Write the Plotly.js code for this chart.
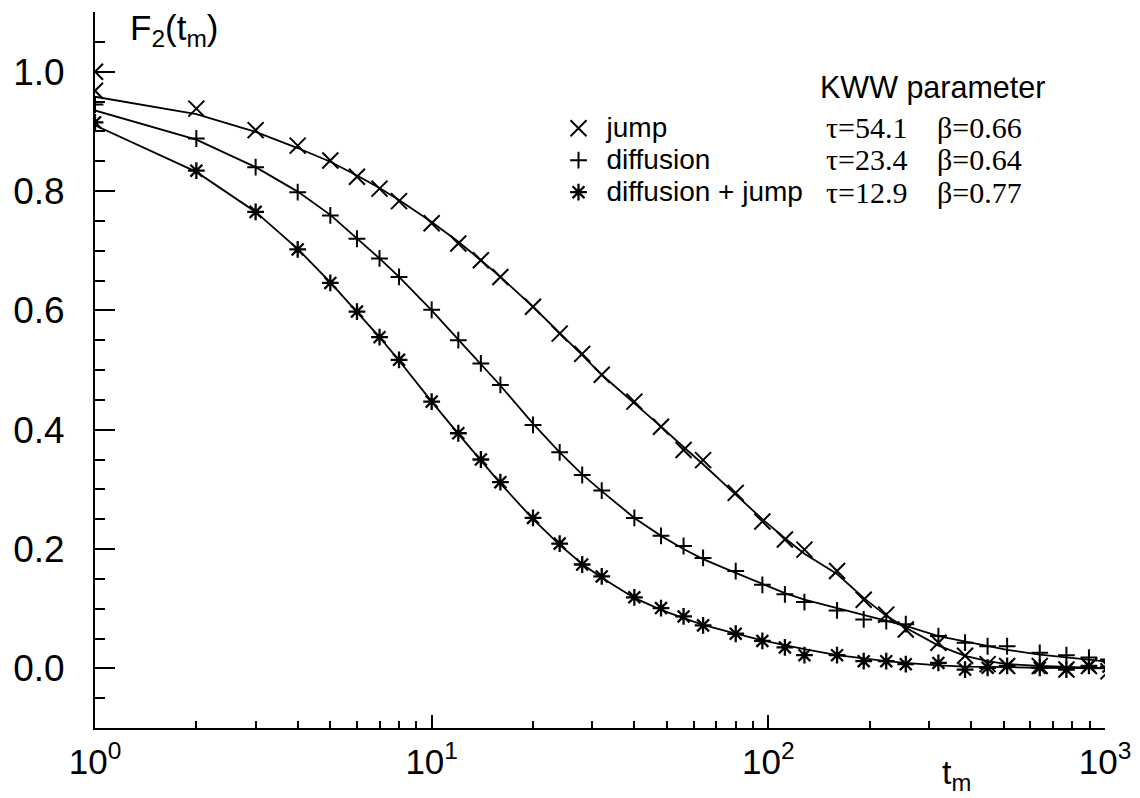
<!DOCTYPE html>
<html>
<head>
<meta charset="utf-8">
<script src="https://cdn.plot.ly/plotly-3.0.1.min.js"></script>
<style>html,body{margin:0;padding:0;background:#fff;}#chart{width:1140px;height:798px;}</style>
</head>
<body>
<div id="chart"></div>
<script>
// time steps t_m
const tVals = [1,2,3,4,5,6,7,8,10,12,14,16,20,24,28,32,40,48,56,64,80,96,112,128,160,192,224,256,320,384,448,512,640,768,896,1024];

// simulated data (markers)
const jumpT = [1].concat(tVals);
const jumpY = [1.0, 0.968, 0.938, 0.902, 0.876, 0.851, 0.824, 0.804, 0.783, 0.746, 0.712, 0.684, 0.656, 0.606, 0.561, 0.527, 0.492, 0.447, 0.405, 0.366, 0.349, 0.294, 0.246, 0.216, 0.199, 0.163, 0.115, 0.090, 0.065, 0.043, 0.021, 0.007, 0.004, 0.004, -0.002, 0.004, -0.005];
const diffY = [0.945, 0.888, 0.840, 0.798, 0.759, 0.720, 0.687, 0.656, 0.601, 0.550, 0.511, 0.475, 0.408, 0.362, 0.324, 0.298, 0.252, 0.222, 0.205, 0.185, 0.163, 0.140, 0.124, 0.111, 0.097, 0.082, 0.079, 0.074, 0.054, 0.043, 0.037, 0.037, 0.026, 0.022, 0.018, 0.015];
const djY = [0.915, 0.834, 0.765, 0.702, 0.646, 0.598, 0.555, 0.517, 0.447, 0.394, 0.350, 0.312, 0.252, 0.209, 0.174, 0.154, 0.119, 0.101, 0.087, 0.072, 0.058, 0.046, 0.035, 0.022, 0.022, 0.012, 0.012, 0.007, 0.009, -0.002, 0.001, 0.004, 0.001, -0.002, 0.004, 0.003];

// KWW fit curves
const jumpFit = [0.958, 0.929, 0.899, 0.872, 0.849, 0.826, 0.805, 0.785, 0.748, 0.715, 0.684, 0.656, 0.606, 0.563, 0.525, 0.492, 0.445, 0.405, 0.371, 0.342, 0.291, 0.250, 0.218, 0.192, 0.158, 0.118, 0.088, 0.068, 0.038, 0.021, 0.012, 0.007, 0.004, 0.002, 0.001, 0.000];
const diffFit = [0.935, 0.886, 0.840, 0.799, 0.760, 0.721, 0.687, 0.656, 0.600, 0.551, 0.510, 0.474, 0.410, 0.362, 0.325, 0.297, 0.252, 0.222, 0.200, 0.183, 0.160, 0.141, 0.126, 0.115, 0.101, 0.089, 0.079, 0.071, 0.054, 0.045, 0.037, 0.031, 0.023, 0.018, 0.014, 0.011];
const djFit = [0.910, 0.832, 0.765, 0.703, 0.647, 0.598, 0.555, 0.516, 0.447, 0.393, 0.348, 0.310, 0.250, 0.207, 0.175, 0.152, 0.118, 0.098, 0.084, 0.073, 0.058, 0.047, 0.039, 0.032, 0.022, 0.016, 0.012, 0.009, 0.005, 0.003, 0.002, 0.002, 0.001, 0.001, 0.000, 0.000];

const seriesNames = ["jump", "diffusion", "diffusion + jump"];
const kwwTau = ["τ=54.1", "τ=23.4", "τ=12.9"];
const kwwBeta = ["β=0.66", "β=0.64", "β=0.77"];

const xTickVals = [1, 10, 100, 1000];
const xTickText = ["10<sup>0</sup>", "10<sup>1</sup>", "10<sup>2</sup>", "10<sup>3</sup>"];
const xMinorVals = [2,3,4,5,6,7,8,9,20,30,40,50,60,70,80,90,200,300,400,500,600,700,800,900];
const yTickVals = [0, 0.2, 0.4, 0.6, 0.8, 1.0];
const yTickText = ["0.0", "0.2", "0.4", "0.6", "0.8", "1.0"];

const SANS = "Liberation Sans, Arial, sans-serif";
const SERIF = "Liberation Serif, Times New Roman, serif";

function fitTrace(y) {
  return {x: tVals, y: y, mode: "lines", showlegend: false, hoverinfo: "skip",
          line: {color: "black", width: 1.8}};
}
function dataTrace(x, y, name, symbol, size, lw) {
  return {x: x, y: y, mode: "markers",
          name: '<span style="font-size:28px">' + name + '</span>',
          marker: {symbol: symbol, size: size, color: "black", line: {color: "black", width: lw}}};
}

const traces = [
  fitTrace(jumpFit), fitTrace(diffFit), fitTrace(djFit),
  dataTrace(jumpT, jumpY, seriesNames[0], "x-thin-open", 16, 2),
  dataTrace(tVals, diffY, seriesNames[1], "cross-thin-open", 12, 2),
  dataTrace(tVals, djY, seriesNames[2], "asterisk-open", 14, 2.3)
];

const annotations = [
  {text: "F<sub>2</sub>(t<sub>m</sub>)", xref: "paper", yref: "paper", x: 0.033, y: 0.975,
   xanchor: "left", yanchor: "middle", showarrow: false, font: {family: SANS, size: 35, color: "black"}},
  {text: "t<sub>m</sub>", xref: "paper", yref: "paper", x: 0.853, y: -0.065,
   xanchor: "center", yanchor: "middle", showarrow: false, font: {family: SANS, size: 34, color: "black"}},
  {text: "KWW parameter", xref: "paper", yref: "paper", x: 0.716, y: 0.894,
   xanchor: "left", yanchor: "middle", showarrow: false, font: {family: SANS, size: 30.5, color: "black"}}
];
const rowY = [0.8385, 0.7935, 0.7485];
for (let i = 0; i < 3; i++) {
  annotations.push({text: kwwTau[i], xref: "paper", yref: "paper", x: 0.722, y: rowY[i],
    xanchor: "left", yanchor: "middle", showarrow: false, font: {family: SERIF, size: 30, color: "black"}});
  annotations.push({text: kwwBeta[i], xref: "paper", yref: "paper", x: 0.832, y: rowY[i],
    xanchor: "left", yanchor: "middle", showarrow: false, font: {family: SERIF, size: 30, color: "black"}});
}

const layout = {
  width: 1140, height: 798,
  margin: {l: 95, r: 35, t: 12, b: 70, pad: 0},
  paper_bgcolor: "white", plot_bgcolor: "white",
  font: {family: SANS, color: "black"},
  showlegend: true,
  legend: {x: 0.451, y: 0.867, xanchor: "left", yanchor: "top", bgcolor: "rgba(0,0,0,0)",
           itemwidth: 46,
           font: {family: SANS, size: 22.3, color: "black"}, traceorder: "normal"},
  xaxis: {type: "log", range: [0, 3], showgrid: false, zeroline: false,
          showline: true, linecolor: "black", linewidth: 2,
          ticks: "inside", ticklen: 13, tickwidth: 2, tickcolor: "black",
          tickmode: "array", tickvals: xTickVals, ticktext: xTickText,
          ticklabelstandoff: 2,
          tickfont: {family: SANS, size: 35, color: "black"},
          minor: {tickmode: "array", tickvals: xMinorVals, ticks: "inside", ticklen: 7, tickwidth: 2, tickcolor: "black", showgrid: false}},
  yaxis: {range: [-0.1, 1.1], showgrid: false, zeroline: false,
          showline: true, linecolor: "black", linewidth: 2,
          ticks: "inside", ticklen: 20, tickwidth: 2, tickcolor: "black",
          tickmode: "array", tickvals: yTickVals, ticktext: yTickText,
          ticklabelstandoff: 21,
          tickfont: {family: SANS, size: 37, color: "black"},
          minor: {tick0: 0, dtick: 0.05, ticks: "inside", ticklen: 10, tickwidth: 2, tickcolor: "black", showgrid: false}},
  annotations: annotations
};

Plotly.newPlot("chart", traces, layout, {displayModeBar: false, staticPlot: true});
</script>
</body>
</html>
